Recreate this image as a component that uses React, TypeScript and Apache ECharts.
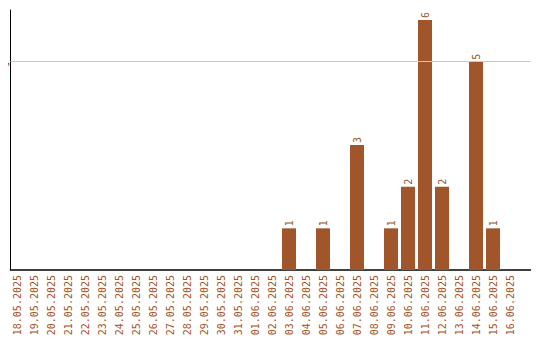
import React, { useEffect, useRef } from "react";
import * as echarts from "echarts";

const categories = [
  "18.05.2025", "19.05.2025", "20.05.2025", "21.05.2025", "22.05.2025",
  "23.05.2025", "24.05.2025", "25.05.2025", "26.05.2025", "27.05.2025",
  "28.05.2025", "29.05.2025", "30.05.2025", "31.05.2025", "01.06.2025",
  "02.06.2025", "03.06.2025", "04.06.2025", "05.06.2025", "06.06.2025",
  "07.06.2025", "08.06.2025", "09.06.2025", "10.06.2025", "11.06.2025",
  "12.06.2025", "13.06.2025", "14.06.2025", "15.06.2025", "16.06.2025",
];
const values = [
  0, 0, 0, 0, 0, 0, 0, 0, 0, 0,
  0, 0, 0, 0, 0, 0, 1, 0, 1, 0,
  3, 0, 1, 2, 6, 2, 0, 5, 1, 0,
];
const yTicks = [0, 5];
const yMax = 6.24;

const COLOR = "#A0562A";

export default function App() {
  const ref = useRef<HTMLDivElement>(null);
  useEffect(() => {
    if (!ref.current) return;
    const chart = echarts.init(ref.current, null, { renderer: "svg" });
    chart.setOption({
      animation: false,
      grid: [
        { left: 28.5, right: 21.5, top: 10, bottom: 70 },
        { left: 30.5, right: 9.5, top: 10, bottom: 70 },
      ],
      xAxis: [
        {
          type: "category",
          gridIndex: 0,
          data: categories,
          axisLine: { show: false },
          axisTick: { show: false },
          axisLabel: {
            rotate: 90,
            interval: 0,
            margin: 5,
            color: "#A5521E",
            fontFamily: "DejaVu Sans Mono",
            fontSize: 10,
          },
        },
        {
          type: "value",
          gridIndex: 1,
          min: 0,
          max: 1,
          axisLine: { show: true, onZero: false, lineStyle: { color: "#000", width: 1.5 } },
          axisTick: { show: false },
          axisLabel: { show: false },
          splitLine: { show: false },
        },
      ],
      yAxis: [
        {
          type: "value",
          gridIndex: 0,
          min: 0,
          max: yMax,
          interval: yTicks[1] - yTicks[0],
          show: false,
        },
        {
          type: "value",
          gridIndex: 1,
          min: 0,
          max: yMax,
          interval: yTicks[1] - yTicks[0],
          axisLine: { show: true, lineStyle: { color: "#000", width: 1 } },
          axisTick: { show: false },
          axisLabel: { show: false },
          splitLine: { show: false },
        },
      ],
      series: [
        {
          type: "bar",
          xAxisIndex: 0,
          yAxisIndex: 0,
          data: values.map((v) => (v === 0 ? null : v)),
          barWidth: 14,
          itemStyle: { color: COLOR },
          label: {
            show: true,
            position: "top",
            rotate: 90,
            align: "left",
            verticalAlign: "middle",
            distance: 2,
            color: COLOR,
            fontFamily: "DejaVu Sans Mono",
            fontSize: 10,
          },
        },
        {
          type: "line",
          xAxisIndex: 1,
          yAxisIndex: 1,
          data: [],
          silent: true,
          markLine: {
            silent: true,
            symbol: "none",
            lineStyle: { color: "#c8c8c8", width: 1, type: "solid" },
            label: {
              show: true,
              position: "start",
              distance: 4,
              rotate: 90,
              color: "#000",
              fontFamily: "DejaVu Sans",
              fontSize: 7,
              formatter: String(yTicks[1]),
            },
            data: [{ yAxis: yTicks[1] }],
          },
        },
      ],
    });
    return () => chart.dispose();
  }, []);
  return (
    <div
      ref={ref}
      style={{ width: 560, height: 340, marginLeft: -28, marginTop: -8 }}
    />
  );
}
